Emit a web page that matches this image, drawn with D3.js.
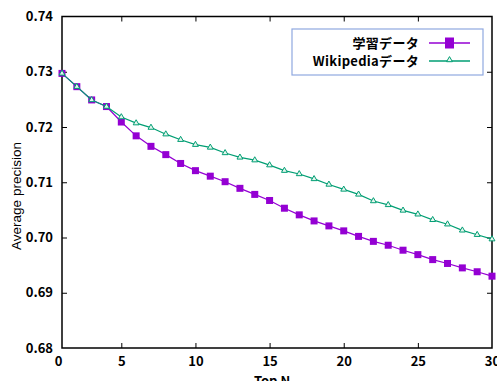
<!DOCTYPE html>
<html>
<head>
<meta charset="utf-8">
<script src="https://cdn.jsdelivr.net/npm/d3@7"></script>
<style>
  body { margin: 0; background: #fff; }
  text { font-family: "Noto Sans CJK JP", "Noto Sans", sans-serif; }
</style>
</head>
<body>
<svg id="chart" width="497" height="381"></svg>
<script>
const topN = d3.range(1, 31);
const trainData = [0.7297, 0.7273, 0.7249, 0.7237, 0.7209, 0.7184, 0.7165, 0.7150, 0.7134, 0.7121,
  0.7111, 0.7101, 0.7089, 0.7078, 0.7067, 0.7053, 0.7041, 0.7030, 0.7021, 0.7012,
  0.7002, 0.6993, 0.6986, 0.6977, 0.6969, 0.6960, 0.6953, 0.6945, 0.6938, 0.6930];
const wikiData = [0.7297, 0.7273, 0.7249, 0.7237, 0.7218, 0.7207, 0.7199, 0.7187, 0.7177, 0.7168,
  0.7163, 0.7153, 0.7145, 0.7140, 0.7131, 0.7121, 0.7115, 0.7106, 0.7096, 0.7087,
  0.7078, 0.7066, 0.7059, 0.7049, 0.7042, 0.7032, 0.7024, 0.7013, 0.7005, 0.6997];
const seriesNames = ["学習データ", "Wikipediaデータ"];
const xTickValues = [1, 5, 10, 15, 20, 25, 30];
const xTickLabels = ["0", "5", "10", "15", "20", "25", "30"];
const yTickValues = [0.68, 0.69, 0.70, 0.71, 0.72, 0.73, 0.74];
const yTickLabels = ["0.68", "0.69", "0.70", "0.71", "0.72", "0.73", "0.74"];

const svg = d3.select("#chart");
const L = 62, R = 492, T = 16.5, B = 348;
const x = d3.scaleLinear().domain([1, 30]).range([L, R]);
const y = d3.scaleLinear().domain([0.68, 0.74]).range([B, T]);

const purple = "#9400d3", green = "#009e73";

// axes
const tickFont = g => g.selectAll("text")
  .style("font-size", "13px").style("font-weight", "bold").attr("fill", "#000");

const xAxis = d3.axisBottom(x).tickValues(xTickValues)
  .tickFormat((d, i) => xTickLabels[i]).tickSizeInner(-5).tickSizeOuter(0).tickPadding(9);
svg.append("g").attr("transform", `translate(0,${B})`).call(xAxis)
  .call(g => g.select(".domain").remove())
  .call(g => g.selectAll("line").attr("stroke", "#000"))
  .call(tickFont)
  .call(g => g.selectAll(".tick").filter(d => d === 1).select("text").attr("dx", -4))
  .call(g => g.selectAll(".tick").filter(d => d === 1 || d === 30).select("line").remove());

const xAxisTop = d3.axisTop(x).tickValues(xTickValues.slice(1, -1))
  .tickFormat("").tickSizeInner(-5).tickSizeOuter(0);
svg.append("g").attr("transform", `translate(0,${T})`).call(xAxisTop)
  .call(g => g.select(".domain").remove())
  .call(g => g.selectAll("line").attr("stroke", "#000"));

const yAxis = d3.axisLeft(y).tickValues(yTickValues)
  .tickFormat((d, i) => yTickLabels[i]).tickSizeInner(-5).tickSizeOuter(0).tickPadding(9);
svg.append("g").attr("transform", `translate(${L},0)`).call(yAxis)
  .call(g => g.select(".domain").remove())
  .call(g => g.selectAll("line").attr("stroke", "#000"))
  .call(tickFont)
  .call(g => g.selectAll(".tick").filter(d => d === 0.68 || d === 0.74).select("line").remove());

const yAxisRight = d3.axisRight(y).tickValues(yTickValues.slice(1, -1))
  .tickFormat("").tickSizeInner(-5).tickSizeOuter(0);
svg.append("g").attr("transform", `translate(${R},0)`).call(yAxisRight)
  .call(g => g.select(".domain").remove())
  .call(g => g.selectAll("line").attr("stroke", "#000"));

// frame
svg.append("rect").attr("x", L).attr("y", T).attr("width", R - L).attr("height", B - T)
  .attr("fill", "none").attr("stroke", "#000").attr("stroke-width", 1.5);

// titles
svg.append("text").attr("transform", `translate(20.5,196) rotate(-90)`)
  .attr("text-anchor", "middle").style("font-size", "13.5px")
  .style("font-family", "'Liberation Sans', Arial, sans-serif")
  .text("Average precision");
svg.append("text").attr("x", (L + R) / 2 - 5).attr("y", 386)
  .attr("text-anchor", "middle").style("font-size", "13px").style("font-weight", "bold")
  .text("Top N");

const line = d3.line().x((d, i) => x(topN[i])).y(d => y(d));

// train series
svg.append("path").datum(trainData).attr("d", line)
  .attr("fill", "none").attr("stroke", purple).attr("stroke-width", 1.2);
svg.append("g").selectAll("rect").data(trainData).join("rect")
  .attr("x", (d, i) => x(topN[i]) - 3.5).attr("y", d => y(d) - 3.5)
  .attr("width", 7).attr("height", 7).attr("fill", purple);

// wiki series
svg.append("path").datum(wikiData).attr("d", line)
  .attr("fill", "none").attr("stroke", green).attr("stroke-width", 1.2);
const tri = d3.symbol().type(d3.symbolTriangle).size(15);
svg.append("g").selectAll("path").data(wikiData).join("path")
  .attr("d", tri)
  .attr("transform", (d, i) => `translate(${x(topN[i])},${y(d)})`)
  .attr("fill", "#e6f5ee").attr("stroke", green).attr("stroke-width", 1);

// legend
const lg = svg.append("g");
lg.append("rect").attr("x", 292).attr("y", 29).attr("width", 191).attr("height", 46)
  .attr("fill", "#fff").attr("stroke", "#8fa8e0").attr("stroke-width", 1.2);
const rows = [{ name: seriesNames[0], color: purple, mark: "square", yy: 43 },
              { name: seriesNames[1], color: green, mark: "tri", yy: 61 }];
rows.forEach(r => {
  lg.append("text").attr("x", 419).attr("y", r.yy).attr("dy", "0.35em")
    .attr("text-anchor", "end").style("font-size", "13px").style("font-weight", "bold")
    .style("letter-spacing", "0.3px")
    .text(r.name);
  lg.append("line").attr("x1", 429).attr("x2", 470).attr("y1", r.yy).attr("y2", r.yy)
    .attr("stroke", r.color).attr("stroke-width", 1.5);
  if (r.mark === "square") {
    lg.append("rect").attr("x", 445).attr("y", r.yy - 5.5).attr("width", 9).attr("height", 11)
      .attr("fill", r.color);
  } else {
    lg.append("path").attr("d", tri).attr("transform", `translate(449.5,${r.yy - 1})`)
      .attr("fill", "#e6f5ee").attr("stroke", r.color).attr("stroke-width", 1);
  }
});
</script>
</body>
</html>
